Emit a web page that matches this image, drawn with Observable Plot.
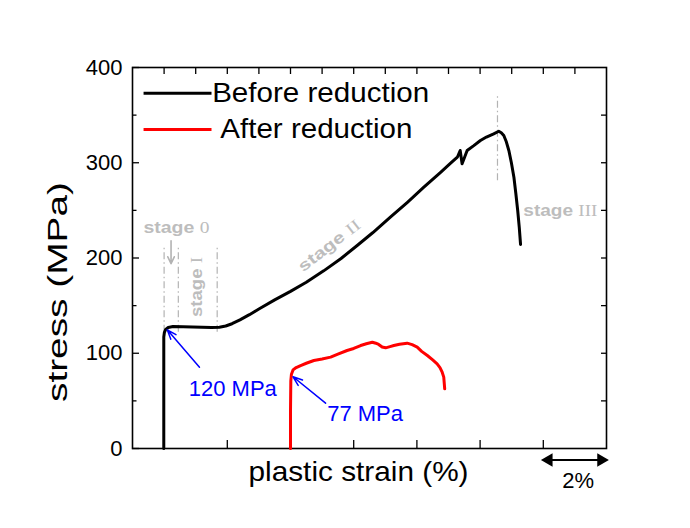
<!DOCTYPE html>
<html><head><meta charset="utf-8">
<script src="https://cdn.jsdelivr.net/npm/d3@7"></script>
<script src="https://cdn.jsdelivr.net/npm/@observablehq/plot@0.6"></script>
<style>
body{margin:0;background:#fff;}
#chart svg{font-family:"Liberation Sans",Arial,sans-serif;background:#fff;}
</style>
</head><body><div id="chart"></div>
<script>
// ---- data ----
const beforeStrain = [-0.01,-0.01,-0.01,0.01,0.05,0.13,0.28,0.6,0.9,1.2,1.5,1.75,1.95,2.15,2.4,2.7,3.0,3.5,4.0,4.5,5.05,5.6,6.11,6.6,7.16,7.7,8.22,8.75,9.05,9.28,9.37,9.43,9.5,9.59,9.8,10.01,10.2,10.43,10.59,10.67,10.75,10.83,10.91,10.99,11.07,11.13,11.19,11.24,11.28];
const beforeStress = [0,60,117,122,125,127,128,127.8,127.5,127.2,127,127.4,128.6,131,135,140.5,146.5,156,165,174.5,186.5,199.5,213.1,226.5,242.8,258.5,274.3,290,299,305.8,312.9,298.9,305,312.9,318,323.4,327,330.4,333.1,331.5,328.6,322,312.9,300,284.8,268,249.9,232,214.2];
const afterStrain = [4.0,4.0,4.01,4.03,4.08,4.18,4.32,4.5,4.74,5.0,5.27,5.5,5.79,6.0,6.22,6.4,6.59,6.7,6.79,6.9,7.01,7.15,7.27,7.45,7.69,7.85,8.01,8.15,8.33,8.5,8.64,8.73,8.80,8.85,8.88];
const afterStress = [0,40,71,78,82.5,85,87.1,89.5,92.4,94,95.9,99,102.9,105,108.1,110,111.6,110.5,109.2,106.5,105.7,107,108.1,109.5,110.6,109,106.4,102,97.6,93,88.9,85,80.1,74.9,62.7];

const seriesNames = ["Before reduction", "After reduction"];
const seriesColors = ["#000000", "#ff0000"];

const yTickValues = [0, 100, 200, 300, 400];
const yMinorValues = [50, 150, 250, 350];
const rightTickValues = [50, 100, 150, 200, 250, 300, 350];
const xMajorValues = [0, 2, 4, 6, 8, 10, 12];
const xTopValues = [0, 1, 2, 3, 4, 5, 6, 7, 8, 9, 10, 11, 12, 13];

const yieldLabels = ["120 MPa", "77 MPa"];
const stageWord = "stage ";
const stageNumerals = ["0", "I", "II", "III"];
const stageLabels = stageNumerals.map(n => stageWord + n);
const scaleBarLabel = "2%";
const xLabel = "plastic strain (%)";
const yLabel = "stress (MPa)";

// ---- annotation layout (in data units) ----
const stageLines = [
  {x: 0.0, y1: 122, y2: 211},
  {x: 0.45, y1: 122, y2: 211},
  {x: 1.68, y1: 122, y2: 211},
  {x: 10.55, y1: 281, y2: 372}
];
const stageText = [
  {t: stageLabels[0], x: 0.39, y: 232, r: 0},
  {t: stageLabels[1], x: 1.05, y: 169.5, r: -90},
  {t: stageLabels[2], x: 5.23, y: 213, r: -38},
  {t: stageLabels[3], x: 12.54, y: 249, r: 0}
];
const yieldArrows = [
  {x1: 1.12, y1: 85.4, x2: 0.1, y2: 124.6},
  {x1: 5.11, y1: 47.6, x2: 4.08, y2: 75.3}
];
const yieldText = [
  {t: yieldLabels[0], x: 0.78, y: 63},
  {t: yieldLabels[1], x: 5.16, y: 36.4}
];
const legendRows = seriesNames.map((n, i) => ({
  name: n, color: seriesColors[i],
  x1: -0.65, x2: 1.5, y: [373, 335][i], tx: [1.52, 1.78][i]
}));

const before = beforeStrain.map((x, i) => ({x, y: beforeStress[i]}));
const after = afterStrain.map((x, i) => ({x, y: afterStress[i]}));

const W = 690, H = 528, mL = 132, mR = 84, mT = 67, mB = 80;
const pw = W - mL - mR, ph = H - mT - mB;
const grey = "#b3b3b3";

const svg = Plot.plot({
  width: W, height: H,
  marginLeft: mL, marginRight: mR, marginTop: mT, marginBottom: mB,
  style: {fontFamily: "'Liberation Sans', Arial, sans-serif", background: "#fff"},
  x: {domain: [-1, 14], axis: null},
  y: {domain: [0, 400]},
  marks: [
    Plot.axisY({ticks: yTickValues, tickSize: 0, tickPadding: 10, fontSize: 22, color: "#000", label: null}),
    // inward ticks
    Plot.tickY(yTickValues, {y: d => d, insetRight: pw - 7, stroke: "#000", strokeWidth: 1.3}),
    Plot.tickY(yMinorValues, {y: d => d, insetRight: pw - 4.5, stroke: "#000", strokeWidth: 1.3}),
    Plot.tickY(rightTickValues, {y: d => d, insetLeft: pw - 5, stroke: "#000", strokeWidth: 1.3}),
    Plot.tickX(xMajorValues, {x: d => d, insetTop: ph - 8, stroke: "#000", strokeWidth: 1.3}),
    Plot.tickX(xTopValues, {x: d => d, insetBottom: ph - 7, stroke: "#000", strokeWidth: 1.3}),
    Plot.frame({stroke: "#000", strokeWidth: 1.6}),
    // stage guides
    Plot.ruleX(stageLines, {x: "x", y1: "y1", y2: "y2", stroke: grey, strokeWidth: 1.2, strokeDasharray: "7,3,1.5,3"}),
    Plot.arrow([{x: 0.22}], {x1: "x", x2: "x", y1: 218, y2: 194, stroke: grey, strokeWidth: 1.6, headLength: 8, headAngle: 50}),
    Plot.text(stageText, {x: "x", y: "y", text: "t", rotate: "r", textAnchor: "middle", fill: "#bdbdbd", fontWeight: "bold", fontSize: 16}),
    // curves
    Plot.line(before, {x: "x", y: "y", stroke: seriesColors[0], strokeWidth: 3, strokeLinejoin: "round"}),
    Plot.line(after, {x: "x", y: "y", stroke: seriesColors[1], strokeWidth: 3, strokeLinejoin: "round"}),
    // yield annotations
    Plot.arrow(yieldArrows, {x1: "x1", y1: "y1", x2: "x2", y2: "y2", stroke: "#0000ff", strokeWidth: 1.5, headLength: 10, headAngle: 40}),
    Plot.text(yieldText, {x: "x", y: "y", text: "t", textAnchor: "start", fill: "#0000ff", fontSize: 22}),
    // legend
    Plot.link(legendRows, {x1: "x1", x2: "x2", y1: "y", y2: "y", stroke: "color", strokeWidth: 3}),
    Plot.text(legendRows, {x: "tx", y: "y", text: "name", textAnchor: "start", fill: "#000", fontSize: 28}),
    // scale bar
    Plot.link([{}], {x1: 12.1, x2: 13.9, y1: -12, y2: -12, stroke: "#000", strokeWidth: 2}),
    Plot.dot([{}], {x: 12.17, y: -12, symbol: "triangle", r: 5, fill: "#000", stroke: "none", rotate: -90}),
    Plot.dot([{}], {x: 13.83, y: -12, symbol: "triangle", r: 5, fill: "#000", stroke: "none", rotate: 90}),
    Plot.text([scaleBarLabel], {x: 13.1, y: -34, fontSize: 22, fill: "#000"}),
    // axis titles
    Plot.text([xLabel], {frameAnchor: "bottom", textAnchor: "middle", dx: -11, dy: 32, fontSize: 28, fill: "#000"}),
    Plot.text([yLabel], {frameAnchor: "left", textAnchor: "middle", dx: -74, dy: 34, rotate: -90, fontSize: 27, fill: "#000"})
  ]
});
document.getElementById("chart").append(svg);

// serif Roman numerals in the stage labels, as in the reference
d3.select(svg).selectAll("text").each(function() {
  const t = this.textContent;
  if (stageLabels.includes(t)) {
    const num = t.slice(stageWord.length);
    this.textContent = "";
    d3.select(this).append("tspan").text(stageWord);
    d3.select(this).append("tspan").attr("font-family", "'Liberation Serif', 'Times New Roman', serif").attr("font-weight", "normal").text(num);
  }
});

// widen glyphs like the reference's stretched text
const targetLengths = {
  "Before reduction": 217, "After reduction": 192,
  "plastic strain (%)": 220, "stress (MPa)": 220,
  "stage 0": 66, "stage I": 60, "stage II": 74, "stage III": 74
};
d3.select(svg).selectAll("text").each(function() {
  const t = this.textContent;
  if (targetLengths[t]) {
    this.setAttribute("textLength", targetLengths[t]);
    this.setAttribute("lengthAdjust", "spacingAndGlyphs");
  }
});
</script>
</body></html>
